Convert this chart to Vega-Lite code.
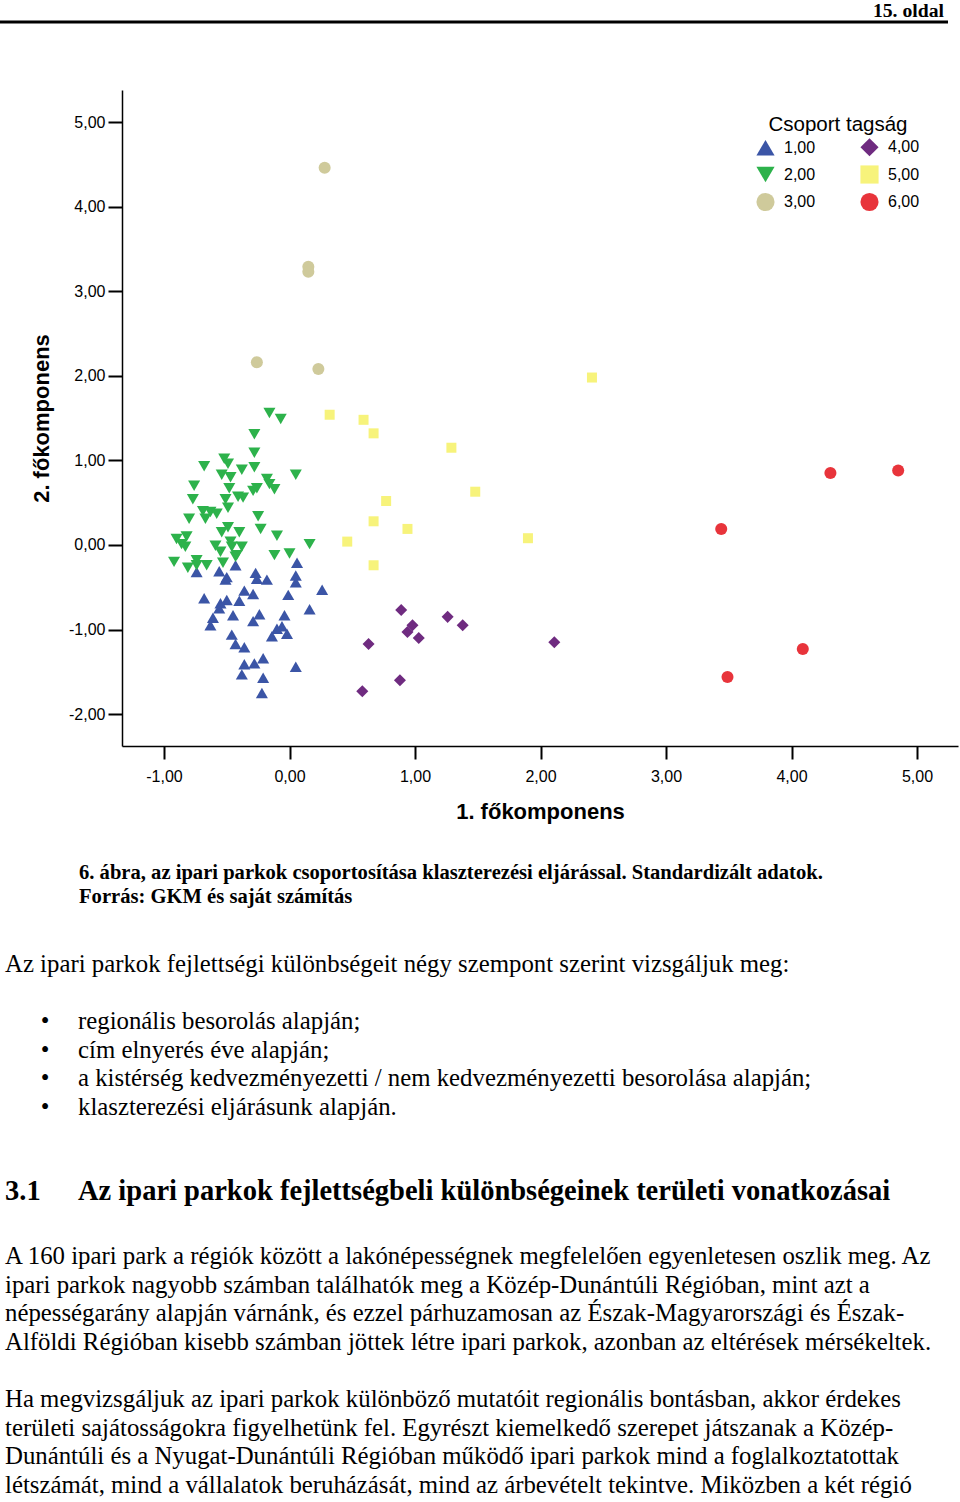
{
  "$schema": "https://vega.github.io/schema/vega-lite/v6.json",
  "width": 836,
  "height": 656,
  "autosize": {"type": "none"},
  "padding": {"left": 122, "top": 90, "right": 2, "bottom": 756},
  "background": "white",
  "config": {"view": {"stroke": null}, "font": "Liberation Sans"},
  "datasets": {
    "points": [
      {"g":"1,00","x":0.06,"y":-0.21},{"g":"1,00","x":-0.43,"y":-0.24},{"g":"1,00","x":-0.74,"y":-0.32},{"g":"1,00","x":-0.56,"y":-0.31},{"g":"1,00","x":-0.27,"y":-0.33},{"g":"1,00","x":0.05,"y":-0.36},{"g":"1,00","x":-0.26,"y":-0.40},{"g":"1,00","x":-0.18,"y":-0.41},{"g":"1,00","x":0.05,"y":-0.44},{"g":"1,00","x":-0.51,"y":-0.41},{"g":"1,00","x":-0.50,"y":-0.38},{"g":"1,00","x":0.26,"y":-0.53},{"g":"1,00","x":-0.36,"y":-0.54},{"g":"1,00","x":-0.29,"y":-0.58},{"g":"1,00","x":-0.01,"y":-0.59},{"g":"1,00","x":-0.68,"y":-0.63},{"g":"1,00","x":-0.50,"y":-0.65},{"g":"1,00","x":-0.40,"y":-0.66},{"g":"1,00","x":-0.55,"y":-0.69},{"g":"1,00","x":-0.56,"y":-0.75},{"g":"1,00","x":0.16,"y":-0.76},{"g":"1,00","x":-0.45,"y":-0.83},{"g":"1,00","x":-0.24,"y":-0.82},{"g":"1,00","x":-0.04,"y":-0.83},{"g":"1,00","x":-0.61,"y":-0.86},{"g":"1,00","x":-0.63,"y":-0.95},{"g":"1,00","x":-0.29,"y":-0.90},{"g":"1,00","x":-0.06,"y":-0.96},{"g":"1,00","x":-0.10,"y":-0.99},{"g":"1,00","x":-0.02,"y":-1.05},{"g":"1,00","x":-0.14,"y":-1.08},{"g":"1,00","x":-0.46,"y":-1.06},{"g":"1,00","x":-0.43,"y":-1.17},{"g":"1,00","x":-0.36,"y":-1.21},{"g":"1,00","x":-0.21,"y":-1.34},{"g":"1,00","x":-0.28,"y":-1.40},{"g":"1,00","x":-0.36,"y":-1.41},{"g":"1,00","x":0.05,"y":-1.44},{"g":"1,00","x":-0.38,"y":-1.53},{"g":"1,00","x":-0.21,"y":-1.57},{"g":"1,00","x":-0.22,"y":-1.75},
      {"g":"2,00","x":-0.16,"y":1.56},{"g":"2,00","x":-0.07,"y":1.49},{"g":"2,00","x":-0.28,"y":1.31},{"g":"2,00","x":-0.28,"y":1.09},{"g":"2,00","x":-0.68,"y":0.93},{"g":"2,00","x":-0.52,"y":1.02},{"g":"2,00","x":-0.49,"y":0.96},{"g":"2,00","x":-0.38,"y":0.89},{"g":"2,00","x":-0.28,"y":0.92},{"g":"2,00","x":0.05,"y":0.83},{"g":"2,00","x":-0.54,"y":0.83},{"g":"2,00","x":-0.47,"y":0.80},{"g":"2,00","x":-0.18,"y":0.78},{"g":"2,00","x":-0.16,"y":0.72},{"g":"2,00","x":-0.12,"y":0.66},{"g":"2,00","x":-0.26,"y":0.67},{"g":"2,00","x":-0.29,"y":0.64},{"g":"2,00","x":-0.76,"y":0.70},{"g":"2,00","x":-0.48,"y":0.67},{"g":"2,00","x":-0.77,"y":0.54},{"g":"2,00","x":-0.51,"y":0.54},{"g":"2,00","x":-0.41,"y":0.57},{"g":"2,00","x":-0.37,"y":0.56},{"g":"2,00","x":-0.49,"y":0.44},{"g":"2,00","x":-0.69,"y":0.40},{"g":"2,00","x":-0.63,"y":0.39},{"g":"2,00","x":-0.58,"y":0.37},{"g":"2,00","x":-0.67,"y":0.31},{"g":"2,00","x":-0.80,"y":0.31},{"g":"2,00","x":-0.25,"y":0.34},{"g":"2,00","x":-0.49,"y":0.21},{"g":"2,00","x":-0.54,"y":0.15},{"g":"2,00","x":-0.40,"y":0.15},{"g":"2,00","x":-0.23,"y":0.19},{"g":"2,00","x":-0.10,"y":0.11},{"g":"2,00","x":0.16,"y":0.01},{"g":"2,00","x":-0.90,"y":0.07},{"g":"2,00","x":-0.82,"y":0.10},{"g":"2,00","x":-0.86,"y":0.01},{"g":"2,00","x":-0.83,"y":-0.02},{"g":"2,00","x":-0.59,"y":-0.01},{"g":"2,00","x":-0.47,"y":0.04},{"g":"2,00","x":-0.46,"y":-0.02},{"g":"2,00","x":-0.38,"y":-0.02},{"g":"2,00","x":-0.55,"y":-0.08},{"g":"2,00","x":-0.42,"y":-0.12},{"g":"2,00","x":-0.12,"y":-0.12},{"g":"2,00","x":0.00,"y":-0.10},{"g":"2,00","x":-0.92,"y":-0.20},{"g":"2,00","x":-0.81,"y":-0.27},{"g":"2,00","x":-0.74,"y":-0.18},{"g":"2,00","x":-0.74,"y":-0.24},{"g":"2,00","x":-0.66,"y":-0.24},{"g":"2,00","x":-0.53,"y":-0.21},{"g":"2,00","x":-0.43,"y":-0.14},
      {"g":"3,00","x":0.28,"y":4.46},{"g":"3,00","x":0.15,"y":3.29},{"g":"3,00","x":0.15,"y":3.23},{"g":"3,00","x":-0.26,"y":2.16},{"g":"3,00","x":0.23,"y":2.08},
      {"g":"4,00","x":0.89,"y":-0.77},{"g":"4,00","x":1.26,"y":-0.85},{"g":"4,00","x":1.38,"y":-0.95},{"g":"4,00","x":0.98,"y":-0.95},{"g":"4,00","x":0.94,"y":-1.03},{"g":"4,00","x":1.03,"y":-1.10},{"g":"4,00","x":0.63,"y":-1.17},{"g":"4,00","x":2.11,"y":-1.15},{"g":"4,00","x":0.88,"y":-1.60},{"g":"4,00","x":0.58,"y":-1.73},
      {"g":"5,00","x":0.32,"y":1.54},{"g":"5,00","x":0.59,"y":1.48},{"g":"5,00","x":0.67,"y":1.32},{"g":"5,00","x":1.29,"y":1.15},{"g":"5,00","x":2.41,"y":1.98},{"g":"5,00","x":1.48,"y":0.63},{"g":"5,00","x":0.77,"y":0.52},{"g":"5,00","x":0.67,"y":0.28},{"g":"5,00","x":0.94,"y":0.19},{"g":"5,00","x":0.46,"y":0.04},{"g":"5,00","x":1.90,"y":0.08},{"g":"5,00","x":0.67,"y":-0.24},
      {"g":"6,00","x":4.31,"y":0.85},{"g":"6,00","x":4.85,"y":0.88},{"g":"6,00","x":3.44,"y":0.19},{"g":"6,00","x":4.09,"y":-1.23},{"g":"6,00","x":3.49,"y":-1.56}
    ],
    "text": [
      {"block":"header","kind":"page","line":0,"text":"15. oldal"},
      {"block":"caption","kind":"caption","line":0,"text":"6. ábra, az ipari parkok csoportosítása klaszterezési eljárással. Standardizált adatok."},
      {"block":"caption","kind":"caption","line":1,"text":"Forrás: GKM és saját számítás"},
      {"block":"intro","kind":"para","line":0,"text":"Az ipari parkok fejlettségi különbségeit négy szempont szerint vizsgáljuk meg:"},
      {"block":"intro","kind":"bullet","line":2,"text":"regionális besorolás alapján;"},
      {"block":"intro","kind":"bullet","line":3,"text":"cím elnyerés éve alapján;"},
      {"block":"intro","kind":"bullet","line":4,"text":"a kistérség kedvezményezetti / nem kedvezményezetti besorolása alapján;"},
      {"block":"intro","kind":"bullet","line":5,"text":"klaszterezési eljárásunk alapján."},
      {"block":"heading","kind":"number","line":0,"text":"3.1"},
      {"block":"heading","kind":"title","line":0,"text":"Az ipari parkok fejlettségbeli különbségeinek területi vonatkozásai"},
      {"block":"body","kind":"para","line":0,"text":"A 160 ipari park a régiók között a lakónépességnek megfelelően egyenletesen oszlik meg. Az"},
      {"block":"body","kind":"para","line":1,"text":"ipari parkok nagyobb számban találhatók meg a Közép-Dunántúli Régióban, mint azt a"},
      {"block":"body","kind":"para","line":2,"text":"népességarány alapján várnánk, és ezzel párhuzamosan az Észak-Magyarországi és Észak-"},
      {"block":"body","kind":"para","line":3,"text":"Alföldi Régióban kisebb számban jöttek létre ipari parkok, azonban az eltérések mérsékeltek."},
      {"block":"body","kind":"para","line":5,"text":"Ha megvizsgáljuk az ipari parkok különböző mutatóit regionális bontásban, akkor érdekes"},
      {"block":"body","kind":"para","line":6,"text":"területi sajátosságokra figyelhetünk fel. Egyrészt kiemelkedő szerepet játszanak a Közép-"},
      {"block":"body","kind":"para","line":7,"text":"Dunántúli és a Nyugat-Dunántúli Régióban működő ipari parkok mind a foglalkoztatottak"},
      {"block":"body","kind":"para","line":8,"text":"létszámát, mind a vállalatok beruházását, mind az árbevételt tekintve. Miközben a két régió"}
    ]
  },
  "resolve": {"scale": {"y": "independent"}},
  "layer": [
    {
      "layer": [
        {
          "data": {"name": "points"},
          "mark": {"type": "point", "filled": true, "opacity": 1, "strokeWidth": 0},
          "encoding": {
            "x": {"field": "x", "type": "quantitative",
              "scale": {"domain": [-1.3347, 5.3267], "nice": false, "zero": false},
              "axis": {"values": [-1,0,1,2,3,4,5], "labelExpr": "replace(replace(format(datum.value,'.2f'),'.',','),'\u2212','-')", "labelFont": "Liberation Sans", "labelFontSize": 16, "labelColor": "#000", "labelPadding": 9, "labelFlush": false, "tickSize": 13, "tickWidth": 2, "tickColor": "#000", "domainColor": "#000", "domainWidth": 1.5, "grid": false, "title": "1. főkomponens", "titleFont": "Liberation Sans", "titleFontSize": 22, "titleFontWeight": "bold", "titleColor": "#000", "titlePadding": 17}},
            "y": {"field": "y", "type": "quantitative",
              "scale": {"domain": [-2.377, 5.38], "nice": false, "zero": false},
              "axis": {"values": [-2,-1,0,1,2,3,4,5], "labelExpr": "replace(replace(format(datum.value,'.2f'),'.',','),'\u2212','-')", "labelFont": "Liberation Sans", "labelFontSize": 16, "labelColor": "#000", "labelPadding": 3, "tickSize": 14, "tickWidth": 2, "tickColor": "#000", "domainColor": "#000", "domainWidth": 1.5, "grid": false, "title": "2. főkomponens", "titleFont": "Liberation Sans", "titleFontSize": 22, "titleFontWeight": "bold", "titleColor": "#000", "titlePadding": 15}},
            "color": {"field": "g", "type": "nominal",
              "scale": {"domain": ["1,00","2,00","3,00","4,00","5,00","6,00"], "range": ["#3b55a6","#2db24b","#cfca9b","#6f2b80","#f7f37b","#e8343b"]},
              "legend": {"title": "Csoport tagság", "orient": "none", "legendX": 634, "legendY": 25, "columns": 2, "columnPadding": 44, "rowPadding": 8.5, "symbolSize": 330, "symbolStrokeWidth": 0, "labelFont": "Liberation Sans", "labelFontSize": 16, "labelOffset": 9, "labelColor": "#000", "titleFont": "Liberation Sans", "titleFontSize": 20.5, "titleFontWeight": "normal", "titleColor": "#000", "titleAnchor": "middle", "titlePadding": 2, "direction": "vertical"}},
            "shape": {"field": "g", "type": "nominal",
              "scale": {"domain": ["1,00","2,00","3,00","4,00","5,00","6,00"], "range": ["triangle-up","triangle-down","circle","diamond","square","circle"]},
              "legend": {"title": "Csoport tagság", "orient": "none", "legendX": 634, "legendY": 25, "columns": 2, "columnPadding": 44, "rowPadding": 8.5, "symbolSize": 330, "symbolStrokeWidth": 0, "labelFont": "Liberation Sans", "labelFontSize": 16, "labelOffset": 9, "labelColor": "#000", "titleFont": "Liberation Sans", "titleFontSize": 20.5, "titleFontWeight": "normal", "titleColor": "#000", "titleAnchor": "middle", "titlePadding": 2, "direction": "vertical"}},
            "size": {"condition": {"test": "datum.g === '5,00'", "value": 100}, "value": 145}
          }
        },
        {
          "data": {"name": "text"},
          "transform": [{"filter": "datum.block === 'header'"}],
          "mark": {"type": "rule", "strokeWidth": 3, "color": "#000"},
          "encoding": {
            "x": {"datum": -2.3068, "type": "quantitative", "scale": {"domain": [-1.3347, 5.3267], "nice": false, "zero": false}},
            "x2": {"datum": 5.247},
            "y": {"datum": 6.184, "type": "quantitative", "scale": {"domain": [-2.377, 5.38], "nice": false, "zero": false}}
          }
        },
        {
          "data": {"name": "text"},
          "transform": [{"filter": "datum.block === 'header'"}],
          "mark": {"type": "text", "align": "right", "baseline": "middle", "font": "Liberation Serif", "fontSize": 19.7, "fontWeight": "bold", "color": "#000"},
          "encoding": {
            "x": {"datum": 5.2151, "type": "quantitative", "scale": {"domain": [-1.3347, 5.3267], "nice": false, "zero": false}},
            "y": {"datum": 6.31, "type": "quantitative", "scale": {"domain": [-2.377, 5.38], "nice": false, "zero": false}},
            "text": {"field": "text"}
          }
        }
      ]
    },
    {
      "data": {"name": "text"},
      "transform": [{"filter": "datum.block === 'caption'"}],
      "mark": {"type": "text", "align": "left", "baseline": "middle", "font": "Liberation Serif", "fontSize": 20.6, "fontWeight": "bold", "color": "#000"},
      "encoding": {
        "x": {"datum": -1.6773, "type": "quantitative", "scale": {"domain": [-1.3347, 5.3267], "nice": false, "zero": false}},
        "y": {"field": "line", "type": "quantitative", "scale": {"domain": [-32.625, -5.2917], "reverse": true, "nice": false, "zero": false}, "axis": null},
        "text": {"field": "text"}
      }
    },
    {
      "data": {"name": "text"},
      "transform": [{"filter": "datum.block === 'intro' && datum.kind === 'para'"}],
      "mark": {"type": "text", "align": "left", "baseline": "middle", "font": "Liberation Serif", "fontSize": 24.8, "color": "#000"},
      "encoding": {
        "x": {"datum": -2.2669, "type": "quantitative", "scale": {"domain": [-1.3347, 5.3267], "nice": false, "zero": false}},
        "y": {"field": "line", "type": "quantitative", "scale": {"domain": [-30.5944, -7.6573], "reverse": true, "nice": false, "zero": false}, "axis": null},
        "text": {"field": "text"}
      }
    },
    {
      "data": {"name": "text"},
      "transform": [{"filter": "datum.block === 'intro' && datum.kind === 'bullet'"}],
      "mark": {"type": "text", "align": "center", "baseline": "middle", "font": "Liberation Serif", "fontSize": 24.8, "color": "#000"},
      "encoding": {
        "x": {"datum": -1.9482, "type": "quantitative", "scale": {"domain": [-1.3347, 5.3267], "nice": false, "zero": false}},
        "y": {"field": "line", "type": "quantitative", "scale": {"domain": [-30.5944, -7.6573], "reverse": true, "nice": false, "zero": false}, "axis": null},
        "text": {"value": "•"}
      }
    },
    {
      "data": {"name": "text"},
      "transform": [{"filter": "datum.block === 'intro' && datum.kind === 'bullet'"}],
      "mark": {"type": "text", "align": "left", "baseline": "middle", "font": "Liberation Serif", "fontSize": 24.8, "color": "#000"},
      "encoding": {
        "x": {"datum": -1.6853, "type": "quantitative", "scale": {"domain": [-1.3347, 5.3267], "nice": false, "zero": false}},
        "y": {"field": "line", "type": "quantitative", "scale": {"domain": [-30.5944, -7.6573], "reverse": true, "nice": false, "zero": false}, "axis": null},
        "text": {"field": "text"}
      }
    },
    {
      "data": {"name": "text"},
      "transform": [{"filter": "datum.block === 'heading' && datum.kind === 'number'"}],
      "mark": {"type": "text", "align": "left", "baseline": "middle", "font": "Liberation Serif", "fontSize": 28.5, "fontWeight": "bold", "color": "#000"},
      "encoding": {
        "x": {"datum": -2.2669, "type": "quantitative", "scale": {"domain": [-1.3347, 5.3267], "nice": false, "zero": false}},
        "y": {"field": "line", "type": "quantitative", "scale": {"domain": [-38.4965, -15.5594], "reverse": true, "nice": false, "zero": false}, "axis": null},
        "text": {"field": "text"}
      }
    },
    {
      "data": {"name": "text"},
      "transform": [{"filter": "datum.block === 'heading' && datum.kind === 'title'"}],
      "mark": {"type": "text", "align": "left", "baseline": "middle", "font": "Liberation Serif", "fontSize": 28.5, "fontWeight": "bold", "color": "#000"},
      "encoding": {
        "x": {"datum": -1.6853, "type": "quantitative", "scale": {"domain": [-1.3347, 5.3267], "nice": false, "zero": false}},
        "y": {"field": "line", "type": "quantitative", "scale": {"domain": [-38.4965, -15.5594], "reverse": true, "nice": false, "zero": false}, "axis": null},
        "text": {"field": "text"}
      }
    },
    {
      "data": {"name": "text"},
      "transform": [{"filter": "datum.block === 'body'"}],
      "mark": {"type": "text", "align": "left", "baseline": "middle", "font": "Liberation Serif", "fontSize": 24.8, "color": "#000"},
      "encoding": {
        "x": {"datum": -2.2669, "type": "quantitative", "scale": {"domain": [-1.3347, 5.3267], "nice": false, "zero": false}},
        "y": {"field": "line", "type": "quantitative", "scale": {"domain": [-40.8042, -17.8671], "reverse": true, "nice": false, "zero": false}, "axis": null},
        "text": {"field": "text"}
      }
    }
  ]
}
